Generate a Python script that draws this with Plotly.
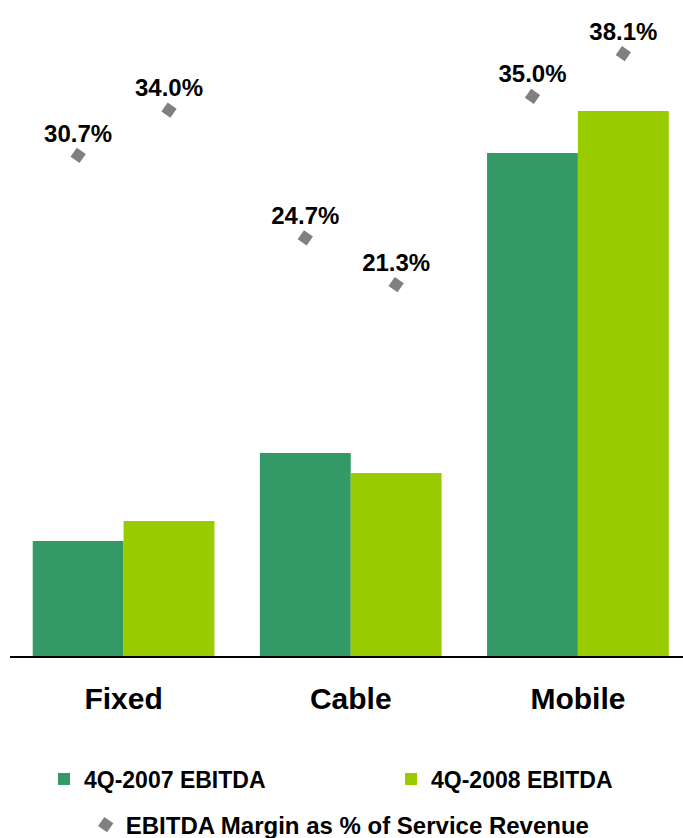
import plotly.graph_objects as go

# Segments and reporting periods
segments = ["Fixed", "Cable", "Mobile"]
ebitda_2007 = [115, 203, 503]
ebitda_2008 = [135, 183, 545]

# EBITDA margin as % of service revenue
margin_2007 = [30.7, 24.7, 35.0]
margin_2008 = [34.0, 21.3, 38.1]

name_2007 = "4Q-2007 EBITDA"
name_2008 = "4Q-2008 EBITDA"
name_margin = "EBITDA Margin as % of Service Revenue"

dark_green = "#339966"
light_green = "#99CC00"
grey = "#808080"
font_family = "Liberation Sans, Arial, sans-serif"

fig = go.Figure()

fig.add_trace(go.Bar(
    x=segments, y=ebitda_2007, name=name_2007, offsetgroup="a",
    marker=dict(color=dark_green, line=dict(width=0)), legend="legend",
))
fig.add_trace(go.Bar(
    x=segments, y=ebitda_2008, name=name_2008, offsetgroup="b",
    marker=dict(color=light_green, line=dict(width=0)), legend="legend2",
))

for vals, grp, show in [(margin_2007, "a", True), (margin_2008, "b", False)]:
    fig.add_trace(go.Scatter(
        x=segments, y=vals, yaxis="y2", offsetgroup=grp,
        mode="markers+text", name=name_margin, showlegend=show, legend="legend3",
        text=[f"{v:.1f}%" for v in vals], textposition="top center",
        textfont=dict(family=font_family, size=24, color="black", weight="bold"),
        marker=dict(symbol="square", size=11, angle=35, color=grey),
        cliponaxis=False,
    ))

legend_common = dict(
    orientation="h", xref="container", yref="container",
    xanchor="left", yanchor="middle", bgcolor="rgba(0,0,0,0)",
)

fig.update_layout(
    width=683, height=838,
    margin=dict(l=10, r=0, t=10, b=182),
    paper_bgcolor="white", plot_bgcolor="white",
    showlegend=True,
    barmode="group", bargap=0.2, bargroupgap=0,
    scattermode="group", scattergap=0.2,
    font=dict(family=font_family, color="black"),
    xaxis=dict(
        range=[-0.5, 2.4626], showline=True, linecolor="black", linewidth=2,
        ticks="", showgrid=False, zeroline=False,
        tickfont=dict(size=30, weight="bold"), ticklabelstandoff=15,
    ),
    yaxis=dict(range=[0, 646], visible=False, showgrid=False, zeroline=False),
    yaxis2=dict(range=[-5.73, 41.28], overlaying="y", visible=False,
                showgrid=False, zeroline=False),
    legend=dict(legend_common, x=0.0644, y=0.0704,
                font=dict(size=23, weight="bold")),
    legend2=dict(legend_common, x=0.5725, y=0.0704,
                 font=dict(size=23, weight="bold")),
    legend3=dict(legend_common, x=0.1255, y=0.0155,
                 font=dict(size=24, weight="bold")),
)

fig.write_html("out.html")
